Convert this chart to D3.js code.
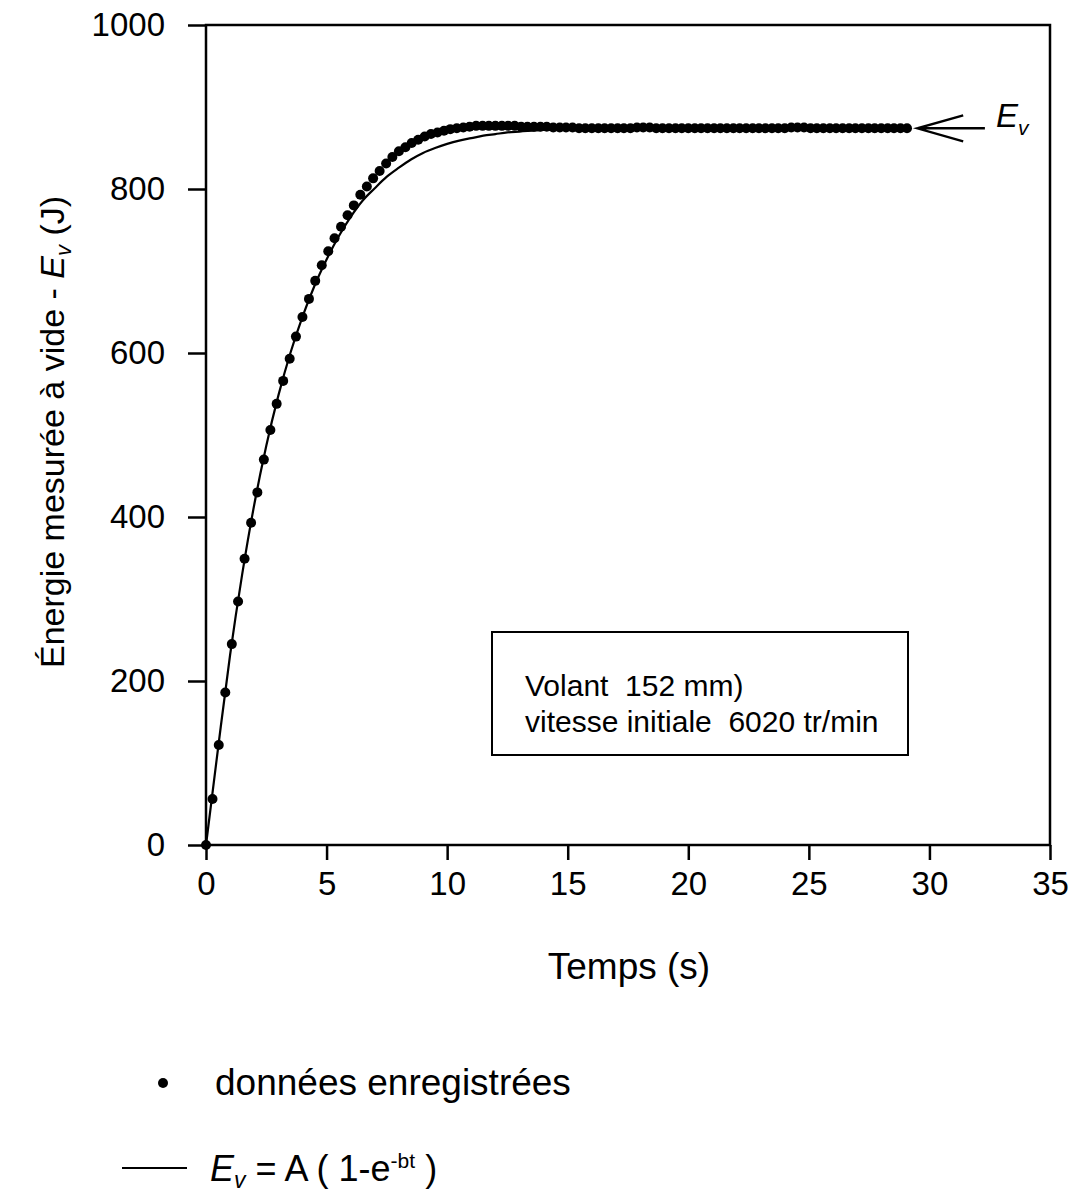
<!DOCTYPE html>
<html>
<head>
<meta charset="utf-8">
<script src="https://cdn.jsdelivr.net/npm/d3@7"></script>
<style>
  body { margin: 0; background: #fff; }
  svg { display: block; font-family: "Liberation Sans", Arial, sans-serif; }
  text { white-space: pre; }
</style>
</head>
<body>
<svg id="chart" width="1076" height="1196"></svg>
<script>
// recorded samples (s, J)
let temps = [
    0, 0.27, 0.53, 0.80, 1.07, 1.33, 1.60, 1.87, 2.13, 2.40,
    2.67, 2.93, 3.20, 3.47, 3.73, 4.00, 4.27, 4.53, 4.80, 5.07,
    5.33, 5.60, 5.87, 6.13, 6.40, 6.67, 6.93, 7.20, 7.47, 7.73,
    8.00, 8.27, 8.53, 8.80, 9.07, 9.33, 9.60, 9.87, 10.13, 10.40,
    10.67, 10.93, 11.20, 11.47, 11.73, 12.00, 12.27, 12.53, 12.80, 13.07,
    13.33, 13.60, 13.87, 14.13, 14.40, 14.67, 14.93, 15.20, 15.47, 15.73,
    16.00, 16.27, 16.53, 16.80, 17.07, 17.33, 17.60, 17.87, 18.13, 18.40,
    18.67, 18.93, 19.20, 19.47, 19.73, 20.00, 20.27, 20.53, 20.80, 21.07,
    21.33, 21.60, 21.87, 22.13, 22.40, 22.67, 22.93, 23.20, 23.47, 23.73,
    24.00, 24.27, 24.53, 24.80, 25.07, 25.33, 25.60, 25.87, 26.13, 26.40,
    26.67, 26.93, 27.20, 27.47, 27.73, 28.00, 28.27, 28.53, 28.80, 29.07
];
let energie = [
    0, 56, 122, 186, 245, 297, 349, 393, 430, 470,
    506, 538, 566, 593, 620, 644, 666, 688, 707, 724,
    740, 754, 768, 780, 793, 803, 813, 822, 831, 839,
    846, 851, 856, 860, 864, 867, 869, 871, 873, 874,
    875, 876, 877, 877, 877, 877, 877, 877, 877, 876,
    876, 876, 876, 876, 875, 875, 875, 875, 874, 874,
    874, 874, 874, 874, 874, 874, 874, 875, 875, 875,
    874, 874, 874, 874, 874, 874, 874, 874, 874, 874,
    874, 874, 874, 874, 874, 874, 874, 874, 874, 874,
    874, 875, 875, 875, 874, 874, 874, 874, 874, 874,
    874, 874, 874, 874, 874, 874, 874, 874, 874, 874
];

// fitted curve Ev = A(1-e^-bt)
let fitTemps = [0, 0.5, 1, 1.5, 2, 2.5, 3, 3.5, 4, 4.5, 5, 5.5, 6, 6.5, 7, 7.5, 8, 8.5, 9, 9.5, 10, 10.5, 11, 11.5, 12, 12.5, 13, 14, 15, 16, 20, 25, 29.07];
let fitEnergie = [0, 118, 232, 330, 415, 487, 548, 600, 644, 682, 714, 742, 766, 786, 801, 815, 826, 836, 844, 850, 855, 859, 862, 865, 867, 869, 870, 872, 873, 874, 874, 874, 874];

let xTicks = [0, 5, 10, 15, 20, 25, 30, 35];
let yTicks = [0, 200, 400, 600, 800, 1000];

const drawChart = () => {
    let svg = d3.select('#chart');
    let left = 206, right = 1050, top = 25, bottom = 845;

    let x = d3.scaleLinear().domain([0, 35]).range([left, right]);
    let y = d3.scaleLinear().domain([0, 1000]).range([bottom, top]);

    // axes
    let gx = svg.append("g")
        .attr("transform", "translate(0," + bottom + ")")
        .call(d3.axisBottom(x).tickValues(xTicks).tickFormat(d3.format("d")).tickSize(15).tickPadding(12));
    let gy = svg.append("g")
        .attr("transform", "translate(" + left + ",0)")
        .call(d3.axisLeft(y).tickValues(yTicks).tickFormat(d3.format("d")).tickSize(18).tickPadding(23));

    [gx, gy].forEach(g => {
        g.select(".domain").remove();
        g.selectAll("line").attr("stroke", "#000").attr("stroke-width", 2.5);
        g.selectAll("text")
            .attr("fill", "#000")
            .style("font-size", "33px")
            .style("font-family", "'Liberation Sans', Arial, sans-serif");
    });

    // frame
    svg.append("rect")
        .attr("x", left).attr("y", top)
        .attr("width", right - left).attr("height", bottom - top)
        .attr("fill", "none")
        .attr("stroke", "#000")
        .attr("stroke-width", 2.5);

    // axis titles
    svg.append("text")
        .attr("x", 629)
        .attr("y", 979)
        .attr("text-anchor", "middle")
        .style("font-size", "37px")
        .text("Temps (s)");

    let yt = svg.append("text")
        .attr("transform", "translate(64,432) rotate(-90)")
        .attr("text-anchor", "middle")
        .style("font-size", "34px");
    yt.append("tspan").text("Énergie mesurée à vide - ");
    yt.append("tspan").attr("font-style", "italic").text("E");
    yt.append("tspan").attr("font-style", "italic").attr("dy", "0.3em").style("font-size", "22px").text("v");
    yt.append("tspan").attr("dy", "-0.2em").text(" (J)");

    // info box
    svg.append("rect")
        .attr("x", 492).attr("y", 632)
        .attr("width", 416).attr("height", 123)
        .attr("fill", "#fff")
        .attr("stroke", "#000")
        .attr("stroke-width", 2);
    svg.append("text")
        .attr("x", 525).attr("y", 696)
        .style("font-size", "30px")
        .text("Volant  152 mm)");
    svg.append("text")
        .attr("x", 525).attr("y", 732)
        .style("font-size", "30px")
        .text("vitesse initiale  6020 tr/min");

    // fitted curve
    let fitData = fitTemps.map((t, i) => ({ t: t, e: fitEnergie[i] }));
    let line = d3.line()
        .x(d => x(d.t))
        .y(d => y(d.e))
        .curve(d3.curveMonotoneX);
    svg.append("path")
        .datum(fitData)
        .attr("fill", "none")
        .attr("stroke", "#000")
        .attr("stroke-width", 2.2)
        .attr("d", line);

    // recorded points
    let pts = temps.map((t, i) => ({ t: t, e: energie[i] }));
    svg.append("g")
        .selectAll("circle")
        .data(pts)
        .enter()
        .append("circle")
        .attr("cx", d => x(d.t))
        .attr("cy", d => y(d.e))
        .attr("r", 5)
        .attr("fill", "#000");

    // Ev arrow + label
    let ay = y(874);
    let tip = x(29.5), tail = x(32.3), head = x(31.4);
    svg.append("path")
        .attr("d", "M" + tail + "," + ay + "L" + tip + "," + ay +
            "M" + head + "," + (ay - 13) + "L" + tip + "," + ay + "L" + head + "," + (ay + 13))
        .attr("fill", "none")
        .attr("stroke", "#000")
        .attr("stroke-width", 2.4);
    let ev = svg.append("text")
        .attr("x", 996).attr("y", ay - 1)
        .style("font-size", "33px")
        .attr("font-style", "italic");
    ev.append("tspan").text("E");
    ev.append("tspan").attr("dy", "0.35em").style("font-size", "21px").text("v");

    // legend
    svg.append("circle")
        .attr("cx", 163).attr("cy", 1083)
        .attr("r", 5)
        .attr("fill", "#000");
    svg.append("text")
        .attr("x", 215).attr("y", 1095)
        .style("font-size", "37px")
        .text("données enregistrées");

    svg.append("line")
        .attr("x1", 122).attr("x2", 187)
        .attr("y1", 1168).attr("y2", 1168)
        .attr("stroke", "#000")
        .attr("stroke-width", 2);
    let f = svg.append("text")
        .attr("x", 210).attr("y", 1181)
        .style("font-size", "36px");
    f.append("tspan").attr("font-style", "italic").text("E");
    f.append("tspan").attr("font-style", "italic").attr("dy", "0.3em").style("font-size", "23px").text("v");
    f.append("tspan").attr("dy", "-0.2em").text(" = A ( 1-e");
    f.append("tspan").attr("dy", "-0.6em").style("font-size", "21px").text("-bt");
    f.append("tspan").attr("dy", "0.35em").text(" )");
}

window.onload = drawChart;
</script>
</body>
</html>
